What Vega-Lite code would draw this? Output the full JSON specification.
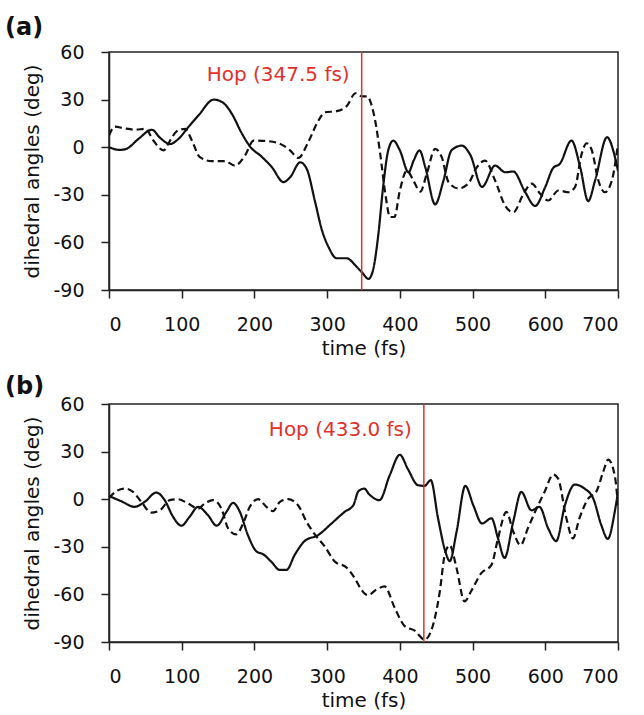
{
"$schema": "https://vega.github.io/schema/vega-lite/v6.json",
"padding": {"left": 4, "top": 15, "right": 0, "bottom": 0},
"background": "white",
"datasets": {
"a": [
{"t":0,"v":0,"s":"solid"},{"t":15,"v":-1.7,"s":"solid"},{"t":24,"v":-1,"s":"solid"},{"t":40,"v":5,"s":"solid"},{"t":59,"v":11,"s":"solid"},{"t":70,"v":6,"s":"solid"},{"t":84,"v":2,"s":"solid"},{"t":95,"v":5,"s":"solid"},{"t":109,"v":12.6,"s":"solid"},{"t":123,"v":20,"s":"solid"},{"t":144,"v":30,"s":"solid"},{"t":157,"v":28,"s":"solid"},{"t":169,"v":21,"s":"solid"},{"t":183,"v":8.4,"s":"solid"},{"t":194,"v":0.4,"s":"solid"},{"t":210,"v":-6,"s":"solid"},{"t":224,"v":-12.6,"s":"solid"},{"t":240,"v":-22,"s":"solid"},{"t":249,"v":-19,"s":"solid"},{"t":263,"v":-9.5,"s":"solid"},{"t":272,"v":-13.7,"s":"solid"},{"t":283,"v":-33.6,"s":"solid"},{"t":293,"v":-52.5,"s":"solid"},{"t":302,"v":-63,"s":"solid"},{"t":313,"v":-70,"s":"solid"},{"t":327,"v":-70,"s":"solid"},{"t":339,"v":-74.6,"s":"solid"},{"t":348,"v":-79,"s":"solid"},{"t":357,"v":-83,"s":"solid"},{"t":364,"v":-75.6,"s":"solid"},{"t":370.5,"v":-54.6,"s":"solid"},{"t":377,"v":-25,"s":"solid"},{"t":384,"v":-2,"s":"solid"},{"t":391,"v":4.2,"s":"solid"},{"t":400,"v":-2,"s":"solid"},{"t":412,"v":-15.8,"s":"solid"},{"t":419,"v":-8.4,"s":"solid"},{"t":427,"v":-2,"s":"solid"},{"t":435,"v":-12.6,"s":"solid"},{"t":448.5,"v":-36,"s":"solid"},{"t":460,"v":-21,"s":"solid"},{"t":471,"v":-2,"s":"solid"},{"t":485,"v":1,"s":"solid"},{"t":497,"v":-5,"s":"solid"},{"t":513,"v":-25,"s":"solid"},{"t":531,"v":-11.6,"s":"solid"},{"t":545,"v":-15.8,"s":"solid"},{"t":556,"v":-15.3,"s":"solid"},{"t":572,"v":-28,"s":"solid"},{"t":586,"v":-37,"s":"solid"},{"t":600,"v":-25,"s":"solid"},{"t":611,"v":-13,"s":"solid"},{"t":620,"v":-10.5,"s":"solid"},{"t":636,"v":4.2,"s":"solid"},{"t":648,"v":-12.6,"s":"solid"},{"t":659,"v":-34,"s":"solid"},{"t":668.5,"v":-21,"s":"solid"},{"t":685,"v":6.3,"s":"solid"},{"t":694,"v":-3,"s":"solid"},{"t":700,"v":-15,"s":"solid"},
{"t":0,"v":7.4,"s":"dashed"},{"t":8,"v":13,"s":"dashed"},{"t":20,"v":12,"s":"dashed"},{"t":36,"v":11,"s":"dashed"},{"t":50,"v":11.6,"s":"dashed"},{"t":61,"v":4.2,"s":"dashed"},{"t":75,"v":-2,"s":"dashed"},{"t":84,"v":4.2,"s":"dashed"},{"t":93,"v":10,"s":"dashed"},{"t":105,"v":11.6,"s":"dashed"},{"t":114,"v":4.2,"s":"dashed"},{"t":125,"v":-6.3,"s":"dashed"},{"t":141,"v":-8.8,"s":"dashed"},{"t":160,"v":-8.8,"s":"dashed"},{"t":173,"v":-11.6,"s":"dashed"},{"t":187,"v":-5.3,"s":"dashed"},{"t":199,"v":4.2,"s":"dashed"},{"t":219,"v":3.8,"s":"dashed"},{"t":240,"v":1,"s":"dashed"},{"t":249,"v":-2,"s":"dashed"},{"t":260.5,"v":-6.7,"s":"dashed"},{"t":274,"v":3.2,"s":"dashed"},{"t":288,"v":16.8,"s":"dashed"},{"t":297,"v":22,"s":"dashed"},{"t":313,"v":22.7,"s":"dashed"},{"t":327,"v":26,"s":"dashed"},{"t":339,"v":34,"s":"dashed"},{"t":348,"v":32,"s":"dashed"},{"t":356,"v":32,"s":"dashed"},{"t":359,"v":29.4,"s":"dashed"},{"t":366,"v":16.8,"s":"dashed"},{"t":373,"v":-4.2,"s":"dashed"},{"t":380,"v":-29.4,"s":"dashed"},{"t":386.5,"v":-44,"s":"dashed"},{"t":392.5,"v":-44,"s":"dashed"},{"t":400,"v":-27.3,"s":"dashed"},{"t":409.5,"v":-14.7,"s":"dashed"},{"t":418.6,"v":-21,"s":"dashed"},{"t":428,"v":-28,"s":"dashed"},{"t":437,"v":-16.8,"s":"dashed"},{"t":448.5,"v":-1,"s":"dashed"},{"t":457.6,"v":-6.3,"s":"dashed"},{"t":467,"v":-22,"s":"dashed"},{"t":480.5,"v":-26,"s":"dashed"},{"t":494,"v":-23,"s":"dashed"},{"t":506,"v":-12.6,"s":"dashed"},{"t":517,"v":-8.4,"s":"dashed"},{"t":531,"v":-21,"s":"dashed"},{"t":545,"v":-37,"s":"dashed"},{"t":556,"v":-41,"s":"dashed"},{"t":570,"v":-29.4,"s":"dashed"},{"t":581.4,"v":-23,"s":"dashed"},{"t":593,"v":-29.4,"s":"dashed"},{"t":604,"v":-33.6,"s":"dashed"},{"t":618,"v":-27.3,"s":"dashed"},{"t":632,"v":-28.4,"s":"dashed"},{"t":641,"v":-25,"s":"dashed"},{"t":650,"v":-4.2,"s":"dashed"},{"t":657,"v":2.5,"s":"dashed"},{"t":664,"v":-2,"s":"dashed"},{"t":673,"v":-21,"s":"dashed"},{"t":682,"v":-28.4,"s":"dashed"},{"t":691.5,"v":-21,"s":"dashed"},{"t":700,"v":2,"s":"dashed"}
],
"b": [
{"t":0,"v":2,"s":"solid"},{"t":17,"v":-1.3,"s":"solid"},{"t":35,"v":-4.8,"s":"solid"},{"t":49,"v":-1.7,"s":"solid"},{"t":65,"v":4.2,"s":"solid"},{"t":76.6,"v":-0.6,"s":"solid"},{"t":88,"v":-11,"s":"solid"},{"t":99.5,"v":-16.7,"s":"solid"},{"t":111,"v":-11,"s":"solid"},{"t":122.5,"v":-4.8,"s":"solid"},{"t":136,"v":-10,"s":"solid"},{"t":148,"v":-16.7,"s":"solid"},{"t":161.5,"v":-8,"s":"solid"},{"t":170.6,"v":-2.3,"s":"solid"},{"t":180,"v":-8,"s":"solid"},{"t":191,"v":-22.6,"s":"solid"},{"t":203,"v":-33,"s":"solid"},{"t":212,"v":-34.7,"s":"solid"},{"t":223,"v":-39.3,"s":"solid"},{"t":235,"v":-44.6,"s":"solid"},{"t":244,"v":-44.6,"s":"solid"},{"t":255.5,"v":-35,"s":"solid"},{"t":269,"v":-26.4,"s":"solid"},{"t":287.6,"v":-22.6,"s":"solid"},{"t":306,"v":-15.3,"s":"solid"},{"t":324,"v":-8,"s":"solid"},{"t":336,"v":-3.8,"s":"solid"},{"t":343,"v":5,"s":"solid"},{"t":351,"v":6.7,"s":"solid"},{"t":358,"v":3,"s":"solid"},{"t":372,"v":-0.6,"s":"solid"},{"t":386,"v":15,"s":"solid"},{"t":400,"v":28,"s":"solid"},{"t":411,"v":19,"s":"solid"},{"t":425,"v":8.8,"s":"solid"},{"t":434,"v":8.4,"s":"solid"},{"t":442.5,"v":12,"s":"solid"},{"t":452.5,"v":-12,"s":"solid"},{"t":462.6,"v":-33,"s":"solid"},{"t":468.6,"v":-39,"s":"solid"},{"t":478,"v":-20.5,"s":"solid"},{"t":490,"v":8.4,"s":"solid"},{"t":501,"v":-3.8,"s":"solid"},{"t":513,"v":-15.3,"s":"solid"},{"t":526,"v":-12,"s":"solid"},{"t":535,"v":-24.7,"s":"solid"},{"t":544,"v":-37,"s":"solid"},{"t":556,"v":-14,"s":"solid"},{"t":567,"v":4.6,"s":"solid"},{"t":581,"v":-7,"s":"solid"},{"t":592,"v":-4.8,"s":"solid"},{"t":604,"v":-18.4,"s":"solid"},{"t":615,"v":-26.4,"s":"solid"},{"t":627,"v":-3.8,"s":"solid"},{"t":640.5,"v":9.2,"s":"solid"},{"t":654,"v":6.7,"s":"solid"},{"t":666,"v":0.4,"s":"solid"},{"t":677,"v":-16.3,"s":"solid"},{"t":686,"v":-25,"s":"solid"},{"t":695.5,"v":-8,"s":"solid"},{"t":700,"v":4.6,"s":"solid"},
{"t":0,"v":0.8,"s":"dashed"},{"t":10,"v":5,"s":"dashed"},{"t":21.5,"v":6.7,"s":"dashed"},{"t":33,"v":4.6,"s":"dashed"},{"t":44.5,"v":-1.7,"s":"dashed"},{"t":58,"v":-8.4,"s":"dashed"},{"t":70,"v":-7,"s":"dashed"},{"t":83.5,"v":-0.6,"s":"dashed"},{"t":95,"v":0,"s":"dashed"},{"t":108.7,"v":-2.7,"s":"dashed"},{"t":122.5,"v":-5.9,"s":"dashed"},{"t":131.7,"v":-2.7,"s":"dashed"},{"t":143,"v":-0.6,"s":"dashed"},{"t":154.6,"v":-5.9,"s":"dashed"},{"t":163.8,"v":-18.4,"s":"dashed"},{"t":175,"v":-22.2,"s":"dashed"},{"t":184.4,"v":-15.3,"s":"dashed"},{"t":193.6,"v":-4.8,"s":"dashed"},{"t":205,"v":0,"s":"dashed"},{"t":216.5,"v":-4.8,"s":"dashed"},{"t":225.7,"v":-7.5,"s":"dashed"},{"t":235,"v":-1.7,"s":"dashed"},{"t":246,"v":0,"s":"dashed"},{"t":260,"v":-3.8,"s":"dashed"},{"t":271.6,"v":-14.2,"s":"dashed"},{"t":283,"v":-22.2,"s":"dashed"},{"t":297,"v":-30,"s":"dashed"},{"t":310.5,"v":-39.3,"s":"dashed"},{"t":326.6,"v":-43,"s":"dashed"},{"t":338,"v":-49.8,"s":"dashed"},{"t":347,"v":-57,"s":"dashed"},{"t":356,"v":-60.5,"s":"dashed"},{"t":367.7,"v":-57,"s":"dashed"},{"t":379,"v":-55,"s":"dashed"},{"t":393,"v":-68.6,"s":"dashed"},{"t":406.7,"v":-80,"s":"dashed"},{"t":420.4,"v":-82.8,"s":"dashed"},{"t":434,"v":-88.5,"s":"dashed"},{"t":443,"v":-83,"s":"dashed"},{"t":455,"v":-58,"s":"dashed"},{"t":461.7,"v":-35,"s":"dashed"},{"t":468.6,"v":-29,"s":"dashed"},{"t":478,"v":-43.5,"s":"dashed"},{"t":489,"v":-64.4,"s":"dashed"},{"t":498,"v":-58,"s":"dashed"},{"t":512,"v":-46.6,"s":"dashed"},{"t":526,"v":-41.4,"s":"dashed"},{"t":535,"v":-24.7,"s":"dashed"},{"t":546.5,"v":-8,"s":"dashed"},{"t":556,"v":-20.5,"s":"dashed"},{"t":566,"v":-29,"s":"dashed"},{"t":576,"v":-18.4,"s":"dashed"},{"t":588,"v":-5.9,"s":"dashed"},{"t":599,"v":4.6,"s":"dashed"},{"t":611,"v":15.5,"s":"dashed"},{"t":617.6,"v":13,"s":"dashed"},{"t":629,"v":-12,"s":"dashed"},{"t":638,"v":-24.7,"s":"dashed"},{"t":647,"v":-12,"s":"dashed"},{"t":659,"v":0.4,"s":"dashed"},{"t":670,"v":4.6,"s":"dashed"},{"t":679.5,"v":17,"s":"dashed"},{"t":686.5,"v":25,"s":"dashed"},{"t":695.5,"v":15,"s":"dashed"},{"t":700,"v":-3.8,"s":"dashed"}
],
"hopA": [{"t":347.5,"label":"Hop (347.5 fs)","ly":42}],
"hopB": [{"t":433.0,"label":"Hop (433.0 fs)","ly":40}]
},
"spacing": 114,
"bounds": "flush",
"vconcat": [
{
"width": 509, "height": 238,
"title": {"text": "(a)", "anchor": "start", "frame": "group", "dx": -104, "offset": 3, "fontSize": 24, "fontWeight": "bold", "color": "#111", "font": "DejaVu Sans"},
"layer": [
{"data": {"name": "a"},
 "mark": {"type": "line", "interpolate": "monotone", "strokeWidth": 2.2, "color": "#111", "clip": true},
 "encoding": {
  "x": {"field": "t", "type": "quantitative", "scale": {"domain": [0, 700], "nice": false}, "axis": {"values": [0,100,200,300,400,500,600,700], "title": "time (fs)"}},
  "y": {"field": "v", "type": "quantitative", "scale": {"domain": [-90, 60], "nice": false}, "axis": {"values": [-90,-60,-30,0,30,60], "title": "dihedral angles (deg)", "labelExpr": "datum.value < 0 ? '-' + abs(datum.value) : '' + datum.value"}},
  "strokeDash": {"field": "s", "type": "nominal", "scale": {"domain": ["solid", "dashed"], "range": [[1, 0], [7, 4]]}, "legend": null}
 }},
{"data": {"name": "hopA"},
 "mark": {"type": "rule", "color": "#e0312b", "strokeWidth": 1.5},
 "encoding": {"x": {"field": "t", "type": "quantitative"}}},
{"data": {"name": "hopA"},
 "mark": {"type": "text", "align": "right", "baseline": "alphabetic", "dx": -12, "fontSize": 20, "color": "#e0312b", "font": "DejaVu Sans"},
 "encoding": {"x": {"field": "t", "type": "quantitative"}, "y": {"field": "ly", "type": "quantitative"}, "text": {"field": "label"}}}
]
},
{
"width": 509, "height": 238,
"title": {"text": "(b)", "anchor": "start", "frame": "group", "dx": -104, "offset": -4, "fontSize": 24, "fontWeight": "bold", "color": "#111", "font": "DejaVu Sans"},
"layer": [
{"data": {"name": "b"},
 "mark": {"type": "line", "interpolate": "monotone", "strokeWidth": 2.2, "color": "#111", "clip": true},
 "encoding": {
  "x": {"field": "t", "type": "quantitative", "scale": {"domain": [0, 700], "nice": false}, "axis": {"values": [0,100,200,300,400,500,600,700], "title": "time (fs)"}},
  "y": {"field": "v", "type": "quantitative", "scale": {"domain": [-90, 60], "nice": false}, "axis": {"values": [-90,-60,-30,0,30,60], "title": "dihedral angles (deg)", "labelExpr": "datum.value < 0 ? '-' + abs(datum.value) : '' + datum.value"}},
  "strokeDash": {"field": "s", "type": "nominal", "scale": {"domain": ["solid", "dashed"], "range": [[1, 0], [7, 4]]}, "legend": null}
 }},
{"data": {"name": "hopB"},
 "mark": {"type": "rule", "color": "#e0312b", "strokeWidth": 1.5},
 "encoding": {"x": {"field": "t", "type": "quantitative"}}},
{"data": {"name": "hopB"},
 "mark": {"type": "text", "align": "right", "baseline": "alphabetic", "dx": -12, "fontSize": 20, "color": "#e0312b", "font": "DejaVu Sans"},
 "encoding": {"x": {"field": "t", "type": "quantitative"}, "y": {"field": "ly", "type": "quantitative"}, "text": {"field": "label"}}}
]
}
],
"config": {
 "font": "DejaVu Sans",
 "view": {"stroke": "#222", "strokeWidth": 1.5},
 "axis": {"grid": false, "domainColor": "#222", "domainWidth": 1.5, "tickColor": "#222", "tickWidth": 1.5, "tickSize": 8, "labelFontSize": 19, "labelColor": "#111", "labelPadding": 17, "titleFontSize": 20, "titleFontWeight": "normal", "titleColor": "#111", "labelFont": "DejaVu Sans", "titleFont": "DejaVu Sans"},
 "axisX": {"titlePadding": 4},
 "axisY": {"titlePadding": 10}
}
}
